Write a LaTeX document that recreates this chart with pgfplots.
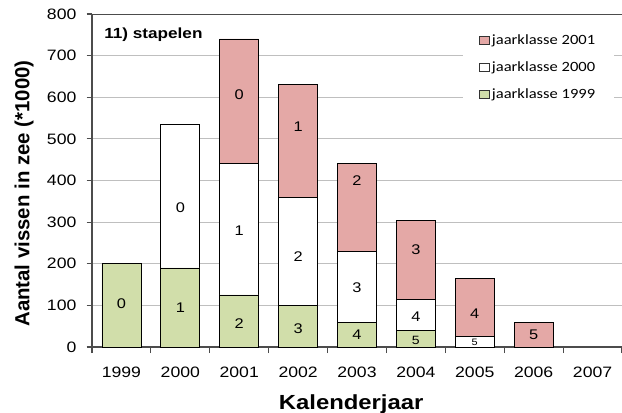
\documentclass[border=0pt]{standalone}
\usepackage{fontspec}
\setmainfont{Liberation Sans}[FakeStretch=1.17]
\newfontfamily\ylfont{Liberation Sans}
\newfontfamily\calfont{Carlito}[FakeStretch=1.17]
\usepackage{pgfplots}
\usepackage{pgfplotstable}
\pgfplotsset{compat=1.18}

\definecolor{jk01}{RGB}{228,168,166}
\definecolor{jk00}{RGB}{255,255,255}
\definecolor{jk99}{RGB}{209,222,170}

% bar tops per year class (x = year, 0 = 1999); bars overlap from 0
\pgfplotstableread{
x top
2 740
3 630
4 440
5 305
6 165
7 60
}\jkC
\pgfplotstableread{
x top
1 535
2 440
3 360
4 230
5 115
6 25
}\jkB
\pgfplotstableread{
x top
0 200
1 190
2 125
3 100
4 60
5 40
}\jkA
% age labels inside the segments
\pgfplotstableread{
x y lab
0 103 0
1 94 1
2 55 2
3 43 3
4 29 4
1 334 0
2 279 1
3 216 2
4 142 3
5 72 4
2 606 0
3 529 1
4 399 2
5 235 3
6 79 4
7 30 5
}\labs

\begin{document}
\begin{tikzpicture}
\begin{axis}[
    at={(0,0)}, anchor=south west,
    scale only axis, width=397.5pt, height=249.75pt,
    xmin=-0.5, xmax=8.5, ymin=0, ymax=800,
    xtick={0,...,8},
    xticklabels={1999,2000,2001,2002,2003,2004,2005,2006,2007},
    minor xtick={-0.5,0.5,...,8.5},
    major x tick style={draw=none},
    minor tick length=4.5pt,
    ytick={0,100,...,800},
    major tick length=4pt,
    tick align=outside,
    tick style={draw=black!70, line width=0.8pt},
    ymajorgrids, major grid style={draw=black!25, line width=0.75pt},
    axis x line*=bottom, axis y line*=left,
    axis line style={draw=black!70, line width=1pt},
    /pgf/number format/assume math mode=true,
    tick label style={font=\fontsize{11.3}{12}\selectfont},
    xticklabel style={anchor=center, yshift=-15pt},
    yticklabel style={anchor=east, inner sep=0pt, xshift=-7.5pt},
    xlabel={Kalenderjaar},
    xlabel style={at={(axis description cs:0.489,0)}, anchor=base,
      yshift=-46.5pt, font=\bfseries\fontsize{15.3}{16}\selectfont},
    ylabel={Aantal vissen in zee (*1000)},
    ylabel style={at={(axis description cs:-0.1283,0.461)}, anchor=center,
      rotate=0, font=\ylfont\bfseries\fontsize{15.3}{16}\selectfont},
    legend style={at={(axis description cs:0.70,0.968)}, anchor=north west,
      draw=none, fill=white, font=\calfont\fontsize{10.6}{12}\selectfont,
      row sep=7.5pt, inner xsep=12pt, inner ysep=5pt},
    legend cell align=left,
    legend image code/.code={\draw[#1, draw=black!80, line width=0.5pt] (0pt,-3pt) rectangle (7pt,3pt);},
  ]
  \addplot[ybar, bar width=29.25pt, bar shift=0pt, fill=jk01, draw=black, line width=0.6pt]
    table[x=x, y=top] {\jkC};
  \addlegendentry{jaarklasse 2001}
  \addplot[ybar, bar width=29.25pt, bar shift=0pt, fill=jk00, draw=black, line width=0.6pt]
    table[x=x, y=top] {\jkB};
  \addlegendentry{jaarklasse 2000}
  \addplot[ybar, bar width=29.25pt, bar shift=0pt, fill=jk99, draw=black, line width=0.6pt]
    table[x=x, y=top] {\jkA};
  \addlegendentry{jaarklasse 1999}
  \addplot[draw=none, mark=none, forget plot, point meta=explicit symbolic,
    nodes near coords, every node near coord/.append style={anchor=center,
      font=\fontsize{10.5}{12}\selectfont}]
    table[x=x, y=y, meta=lab] {\labs};
  \addplot[draw=none, mark=none, forget plot, point meta=explicit symbolic,
    nodes near coords, every node near coord/.append style={anchor=center,
      font=\fontsize{9}{10}\selectfont}]
    coordinates {(5,15) [5]};
  \addplot[draw=none, mark=none, forget plot, point meta=explicit symbolic,
    nodes near coords, every node near coord/.append style={anchor=center,
      font=\fontsize{7}{8}\selectfont}]
    coordinates {(6,12) [5]};
  \draw[black!70, line width=1pt] (rel axis cs:0,1) -- (rel axis cs:1,1);
  \node[anchor=north west, inner sep=0pt, font=\bfseries\fontsize{11}{12}\selectfont]
    at ([xshift=9pt,yshift=-10.5pt]rel axis cs:0,1) {11) stapelen};
\end{axis}
\pgfresetboundingbox
\path (-69pt,-48.75pt) rectangle (397.5pt,260.25pt);
\end{tikzpicture}
\end{document}
